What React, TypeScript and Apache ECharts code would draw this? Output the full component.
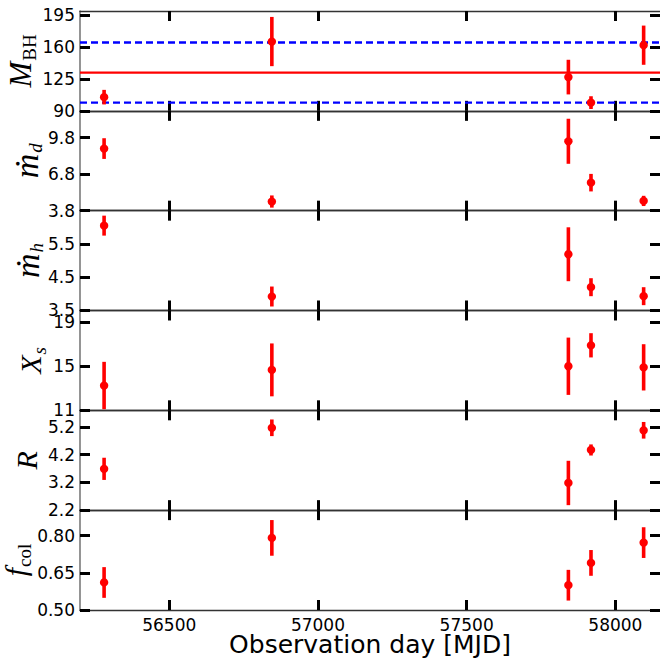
import React, { useEffect, useRef } from 'react';
import * as echarts from 'echarts';

// ---- data ----
const xTicks = [56500, 57000, 57500, 58000];
const obsDays = [56281, 56845, 57842, 57918, 58095];

const mbhVal = [105, 166, 127, 99, 162];
const mbhErr = [8, 27, 19, 7, 21.5];
const mdotDVal = [8.9, 4.55, 9.5, 6.1, 4.6];
const mdotDErr = [0.85, 0.5, 1.85, 0.72, 0.42];
const mdotHVal = [6.05, 3.92, 5.19, 4.2, 3.93];
const mdotHErr = [0.3, 0.3, 0.81, 0.27, 0.27];
const xsVal = [13.25, 14.67, 15.0, 16.9, 14.9];
const xsErr = [2.15, 2.4, 2.6, 1.1, 2.1];
const rVal = [3.69, 5.17, 3.18, 4.37, 5.08];
const rErr = [0.4, 0.3, 0.8, 0.2, 0.3];
const fcolVal = [0.611, 0.791, 0.6, 0.69, 0.772];
const fcolErr = [0.062, 0.072, 0.062, 0.052, 0.062];

const mbhMean = 132;
const mbhLow = 99;
const mbhHigh = 165;

const mbhTicks = [90, 125, 160, 195];
const mdotDTicks = [3.8, 6.8, 9.8];
const mdotHTicks = [3.5, 4.5, 5.5];
const xsTicks = [11, 15, 19];
const rTicks = [2.2, 3.2, 4.2, 5.2];
const fcolTicks = [0.5, 0.65, 0.8];

const X_MIN = 56200;
const X_MAX = 58150;

const panels = [
  { min: 90, max: 199.5, ticks: mbhTicks, dec: 0, vals: mbhVal, errs: mbhErr, name: '{M|M}{r|BH}', gap: 41 },
  { min: 3.8, max: 12.0, ticks: mdotDTicks, dec: 1, vals: mdotDVal, errs: mdotDErr, name: '{m|ṁ}{i|d}', gap: 35 },
  { min: 3.5, max: 6.5, ticks: mdotHTicks, dec: 1, vals: mdotHVal, errs: mdotHErr, name: '{m|ṁ}{i|h}', gap: 34 },
  { min: 11, max: 20.06, ticks: xsTicks, dec: 0, vals: xsVal, errs: xsErr, name: '{L|X}{i|s}', gap: 31 },
  { min: 2.2, max: 5.8, ticks: rTicks, dec: 1, vals: rVal, errs: rErr, name: '{L|R}', gap: 36 },
  { min: 0.5, max: 0.903, ticks: fcolTicks, dec: 2, vals: fcolVal, errs: fcolErr, name: '{L|f}{r|col}', gap: 46 },
];

const TOP = 11;
const PH = 99.83;
const LEFT = 80;
const WIDTH = 580;
const TICK_FONT = 'DejaVu Sans';
const SERIF = 'Liberation Serif';

const subPad = [18, 0, 0, 1];
const richName = {
  M: { fontFamily: SERIF, fontStyle: 'italic', fontSize: 31, lineHeight: 36, color: '#000' },
  m: { fontFamily: SERIF, fontStyle: 'italic', fontSize: 34, lineHeight: 36, color: '#000' },
  L: { fontFamily: SERIF, fontStyle: 'italic', fontSize: 30, lineHeight: 36, color: '#000' },
  r: { fontFamily: SERIF, fontSize: 19, padding: subPad, color: '#000' },
  i: { fontFamily: SERIF, fontStyle: 'italic', fontSize: 19, padding: subPad, color: '#000' },
};

export default function App() {
  const ref = useRef<HTMLDivElement>(null);
  useEffect(() => {
    if (!ref.current) return;
    const chart = echarts.init(ref.current, undefined, { renderer: 'svg' });
    const grid: any[] = [];
    const xAxis: any[] = [];
    const yAxis: any[] = [];
    const series: any[] = [];
    const tickStyle = { color: '#000', width: 3 };
    panels.forEach((p, i) => {
      grid.push({ left: LEFT, width: WIDTH, top: TOP + i * PH, height: PH, containLabel: false, outerBoundsMode: 'none' });
      const last = i === panels.length - 1;
      xAxis.push({
        type: 'value', gridIndex: i, position: 'bottom', min: X_MIN, max: X_MAX,
        axisLine: { show: true, lineStyle: { color: '#333', width: 1.4 } },
        axisTick: { show: true, inside: true, length: 10, lineStyle: tickStyle, customValues: xTicks },
        axisLabel: {
          show: last, customValues: xTicks, margin: 7, fontFamily: TICK_FONT, fontSize: 17, color: '#000',
          formatter: (v: number) => String(v),
        },
        splitLine: { show: false },
        name: last ? 'Observation day [MJD]' : '',
        nameLocation: 'middle', nameGap: 22, nameMoveOverlap: false,
        nameTextStyle: { fontFamily: TICK_FONT, fontSize: 25, color: '#000' },
      });
      xAxis.push({
        type: 'value', gridIndex: i, position: 'top', min: X_MIN, max: X_MAX,
        axisLine: { show: true, lineStyle: { color: '#333', width: 1.4 } },
        axisTick: { show: true, inside: true, length: 10, lineStyle: tickStyle, customValues: xTicks },
        axisLabel: { show: false },
        splitLine: { show: false },
      });
      yAxis.push({
        type: 'value', gridIndex: i, position: 'left', min: p.min, max: p.max,
        axisLine: { show: true, lineStyle: { color: '#7a7a7a', width: 1.6 } },
        axisTick: { show: true, inside: true, length: 10, lineStyle: tickStyle, customValues: p.ticks },
        axisLabel: {
          customValues: p.ticks, margin: 5, fontFamily: TICK_FONT, fontSize: 17, color: '#000',
          formatter: (v: number) => v.toFixed(p.dec),
        },
        splitLine: { show: false },
        name: p.name, nameLocation: 'middle', nameRotate: 90, nameGap: p.gap, nameMoveOverlap: false,
        nameTextStyle: { rich: richName },
      });
      yAxis.push({
        type: 'value', gridIndex: i, position: 'right', min: p.min, max: p.max,
        axisLine: { show: false },
        axisTick: { show: true, inside: true, length: 10, lineStyle: tickStyle, customValues: p.ticks },
        axisLabel: { show: false },
        splitLine: { show: false },
      });
      series.push({
        type: 'custom', xAxisIndex: 2 * i, yAxisIndex: 2 * i, clip: false, z: 5,
        data: obsDays.map((d, k) => [d, p.vals[k], p.errs[k]]),
        encode: { x: 0, y: 1 },
        renderItem: (params: any, api: any) => {
          const x = api.value(0);
          const y = api.value(1);
          const e = api.value(2);
          const t = api.coord([x, y + e]);
          const b = api.coord([x, y - e]);
          const c = api.coord([x, y]);
          return {
            type: 'group',
            children: [
              { type: 'line', shape: { x1: t[0], y1: t[1], x2: b[0], y2: b[1] }, style: { stroke: '#ff0000', lineWidth: 3.6 } },
              { type: 'circle', shape: { cx: c[0], cy: c[1], r: 4.2 }, style: { fill: '#ff0000' } },
            ],
          };
        },
      });
    });
    // reference lines in the M_BH panel
    const hline = (v: number, color: string, type: any, width: number) => ({
      type: 'line', xAxisIndex: 0, yAxisIndex: 0, symbol: 'none', silent: true, z: 3,
      data: [[X_MIN, v], [X_MAX, v]],
      lineStyle: { color, type, width },
    });
    series.push(hline(mbhMean, '#ff0000', 'solid', 2.2));
    series.push(hline(mbhLow, '#0000ff', [7, 4], 2.4));
    series.push(hline(mbhHigh, '#0000ff', [7, 4], 2.4));

    chart.setOption({ animation: false, backgroundColor: '#fff', grid, xAxis, yAxis, series });
    return () => chart.dispose();
  }, []);
  return <div ref={ref} style={{ position: 'fixed', left: 0, top: 0, width: 660, height: 662 }} />;
}
